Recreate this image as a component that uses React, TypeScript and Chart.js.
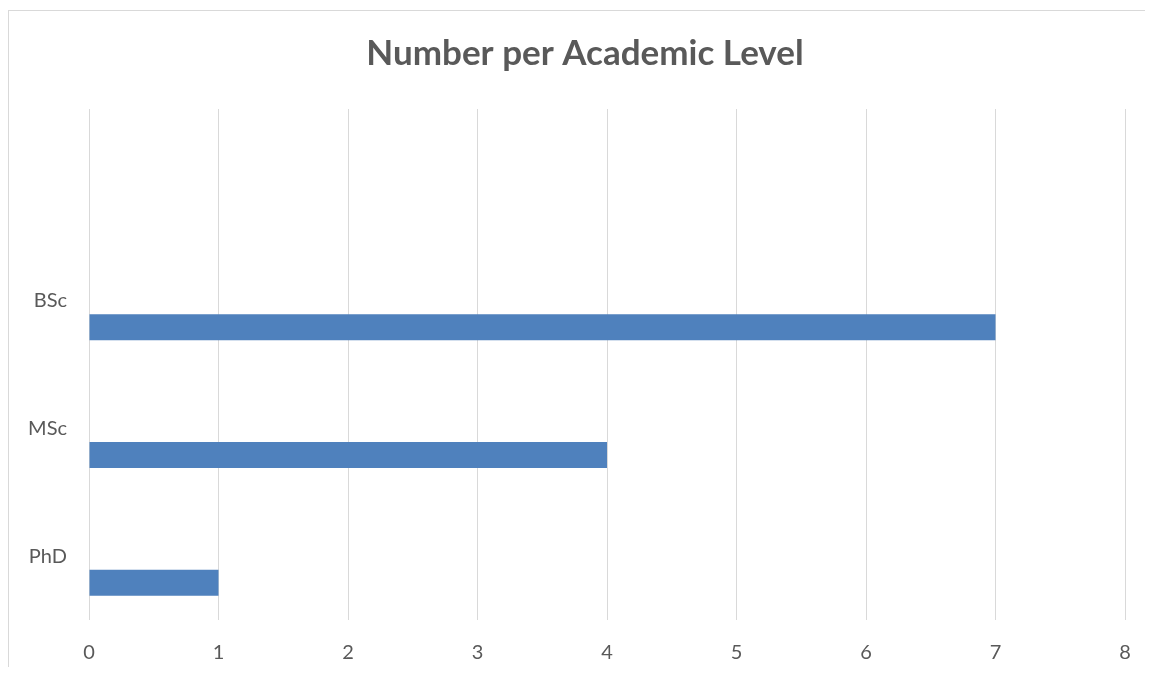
import React, { useEffect, useRef } from "react";
import { Chart, registerables } from "chart.js";

Chart.register(...registerables);

// Academic levels, top to bottom (the first row is a blank category)
const levels: string[] = ["", "BSc", "MSc", "PhD"];
const counts: (number | null)[] = [null, 7, 4, 1];
const emptySeries: (number | null)[] = [null, null, null, null];

const xMin = 0;
const xMax = 8;
const xStep = 1;

const TEXT = "#595959";
const GRID = "#d9d9d9";
const BAR = "#4f81bd";

export default function App() {
  const canvasRef = useRef<HTMLCanvasElement | null>(null);

  useEffect(() => {
    if (!canvasRef.current) return;
    const chart = new Chart(canvasRef.current, {
      type: "bar",
      data: {
        labels: levels,
        datasets: [
          {
            label: "",
            data: emptySeries,
            backgroundColor: BAR,
            categoryPercentage: 0.833,
            barPercentage: 0.49,
          },
          {
            label: "Number",
            data: counts,
            backgroundColor: BAR,
            borderWidth: 0,
            categoryPercentage: 0.833,
            barPercentage: 0.49,
          },
        ],
      },
      options: {
        indexAxis: "y",
        animation: false,
        responsive: false,
        maintainAspectRatio: false,
        layout: { padding: { left: 8, right: 0, top: 0, bottom: 0 } },
        plugins: {
          legend: { display: false },
          tooltip: { enabled: false },
          title: {
            display: true,
            text: "Number per Academic Level",
            color: TEXT,
            font: { family: "Lato", size: 35, weight: "bold" },
            padding: { top: 22, bottom: 34 },
          },
        },
        scales: {
          x: {
            type: "linear",
            min: xMin,
            max: xMax,
            ticks: {
              stepSize: xStep,
              color: TEXT,
              font: { family: "Lato", size: 20 },
              padding: 21,
            },
            grid: { color: GRID, lineWidth: 1, drawTicks: false },
            border: { display: false },
            afterFit: (scale: any) => {
              scale.height = 47;
            },
          },
          y: {
            type: "category",
            ticks: {
              color: TEXT,
              font: { family: "Lato", size: 20 },
              padding: 22,
            },
            grid: { display: false, drawTicks: false },
            border: { display: false },
            afterFit: (scale: any) => {
              scale.width = 72;
            },
          },
          // empty margin on the right of the plot
          yRight: {
            type: "linear",
            position: "right",
            display: true,
            ticks: { display: false },
            grid: { display: false, drawTicks: false },
            border: { display: false },
            afterFit: (scale: any) => {
              scale.width = 28;
            },
          },
        },
      },
    });
    return () => chart.destroy();
  }, []);

  return (
    <div style={{ paddingTop: 2 }}>
      <div
        style={{
          borderLeft: `1px solid ${GRID}`,
          borderTop: `1px solid ${GRID}`,
          width: 1144,
          height: 656,
          background: "#ffffff",
        }}
      >
        <canvas ref={canvasRef} width={1144} height={656} style={{ display: "block" }} />
      </div>
    </div>
  );
}
